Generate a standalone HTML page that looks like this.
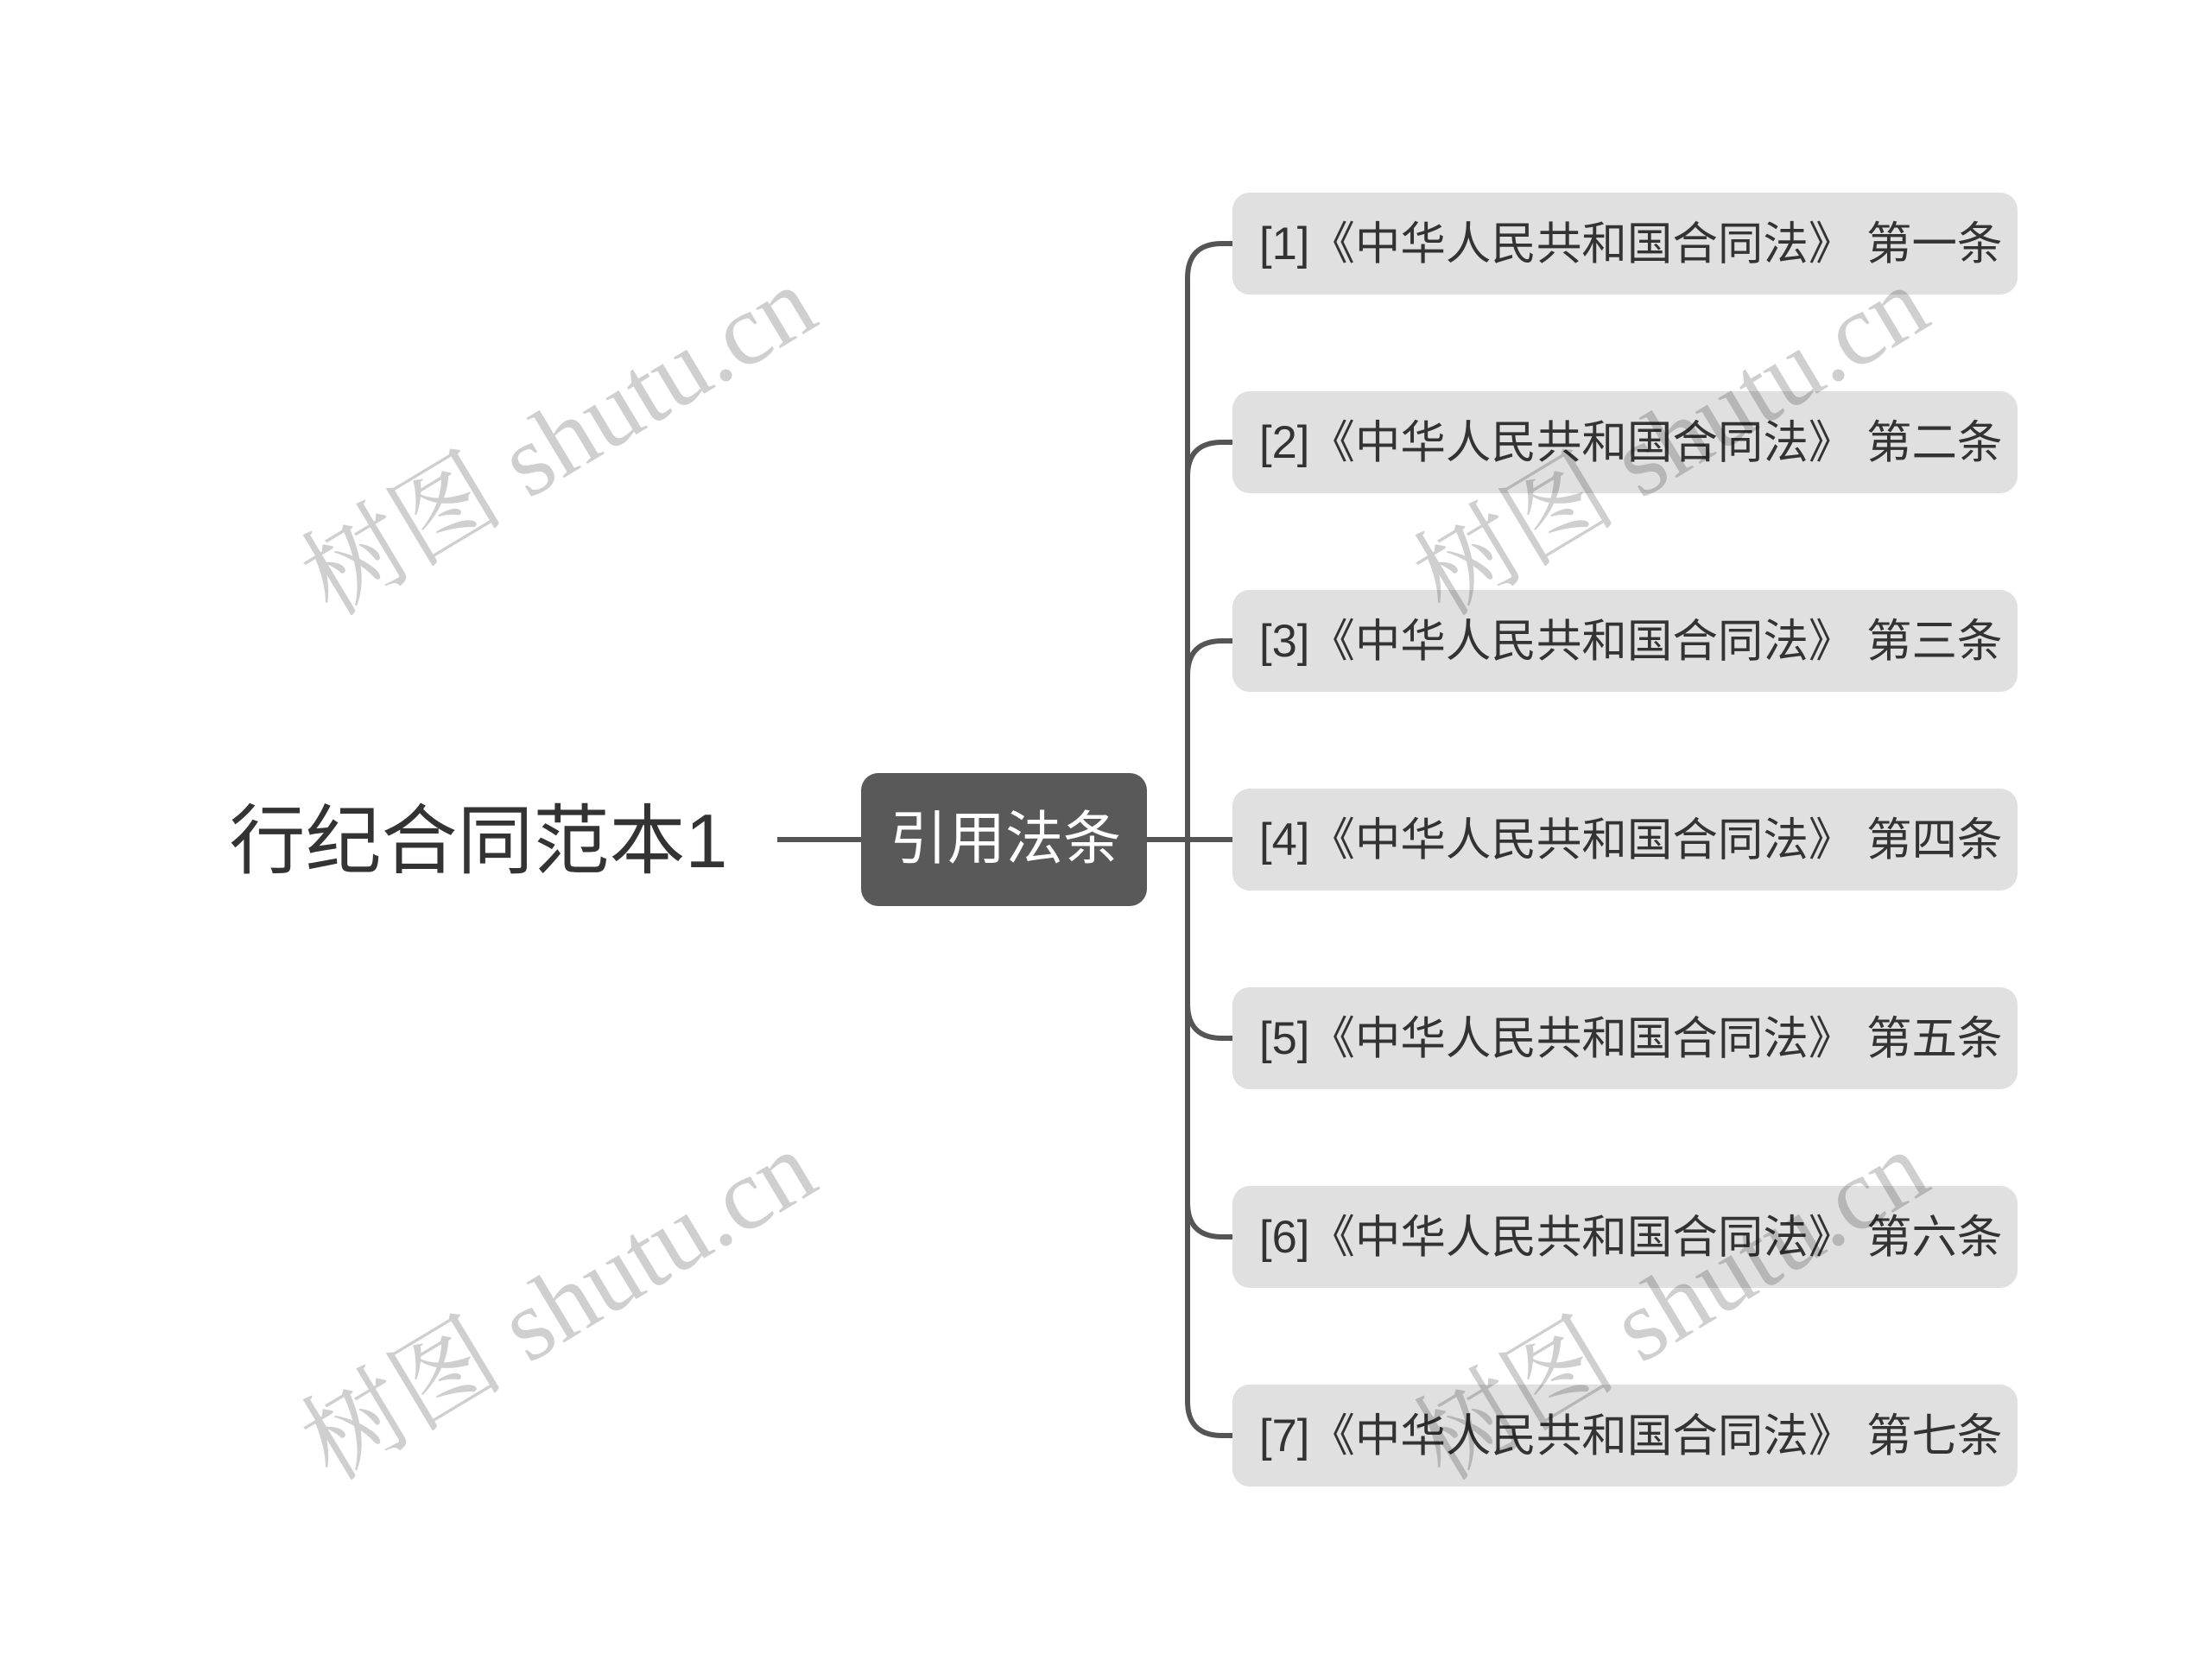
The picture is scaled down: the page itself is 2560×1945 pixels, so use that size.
<!DOCTYPE html>
<html><head><meta charset="utf-8"><style>
html,body{margin:0;padding:0;background:#fff;}
svg{display:block;}
</style></head><body>
<svg width="2560" height="1945" viewBox="0 0 2560 1945" xmlns="http://www.w3.org/2000/svg">
<g stroke="#555" stroke-width="6" fill="none">
<line x1="900" y1="972" x2="997" y2="972"/>
<line x1="1328" y1="972" x2="1430" y2="972"/>
<path d="M1430 282 H1415 Q1375 282 1375 322 V1622 Q1375 1662 1415 1662 H1430"/>
<path d="M1430 512 H1415 Q1375 512 1375 552"/>
<path d="M1430 742 H1415 Q1375 742 1375 782"/>
<path d="M1430 1202 H1415 Q1375 1202 1375 1162"/>
<path d="M1430 1432 H1415 Q1375 1432 1375 1392"/>
</g>
<text x="554" y="1004" font-family="Liberation Sans, Noto Sans CJK SC, sans-serif" font-size="88" fill="#333" text-anchor="middle">行纪合同范本1</text>
<rect x="997" y="895" width="331" height="154" rx="20" fill="#595959"/>
<text x="1164" y="994" font-family="Liberation Sans, Noto Sans CJK SC, sans-serif" font-size="67" fill="#fff" text-anchor="middle">引用法条</text>
<g font-family="Liberation Sans, Noto Sans CJK SC, sans-serif" font-size="52.5" fill="#333">
<rect x="1427" y="223" width="909" height="118" rx="20" fill="#e0e0e0"/>
<text x="1458" y="300">[1]《中华人民共和国合同法》 第一条</text>
<rect x="1427" y="453" width="909" height="118" rx="20" fill="#e0e0e0"/>
<text x="1458" y="530">[2]《中华人民共和国合同法》 第二条</text>
<rect x="1427" y="683" width="909" height="118" rx="20" fill="#e0e0e0"/>
<text x="1458" y="760">[3]《中华人民共和国合同法》 第三条</text>
<rect x="1427" y="913" width="909" height="118" rx="20" fill="#e0e0e0"/>
<text x="1458" y="990">[4]《中华人民共和国合同法》 第四条</text>
<rect x="1427" y="1143" width="909" height="118" rx="20" fill="#e0e0e0"/>
<text x="1458" y="1220">[5]《中华人民共和国合同法》 第五条</text>
<rect x="1427" y="1373" width="909" height="118" rx="20" fill="#e0e0e0"/>
<text x="1458" y="1450">[6]《中华人民共和国合同法》 第六条</text>
<rect x="1427" y="1603" width="909" height="118" rx="20" fill="#e0e0e0"/>
<text x="1458" y="1680">[7]《中华人民共和国合同法》 第七条</text>
</g>
<g font-family="Liberation Serif, Noto Serif CJK SC, serif" font-size="118" fill="#000" fill-opacity="0.19" text-anchor="middle">
<text transform="translate(648,512) rotate(-31)" y="38">树图 shutu.cn</text>
<text transform="translate(1936,512) rotate(-31)" y="38">树图 shutu.cn</text>
<text transform="translate(648,1513) rotate(-31)" y="38">树图 shutu.cn</text>
<text transform="translate(1936,1513) rotate(-31)" y="38">树图 shutu.cn</text>
</g>
</svg>
</body></html>
